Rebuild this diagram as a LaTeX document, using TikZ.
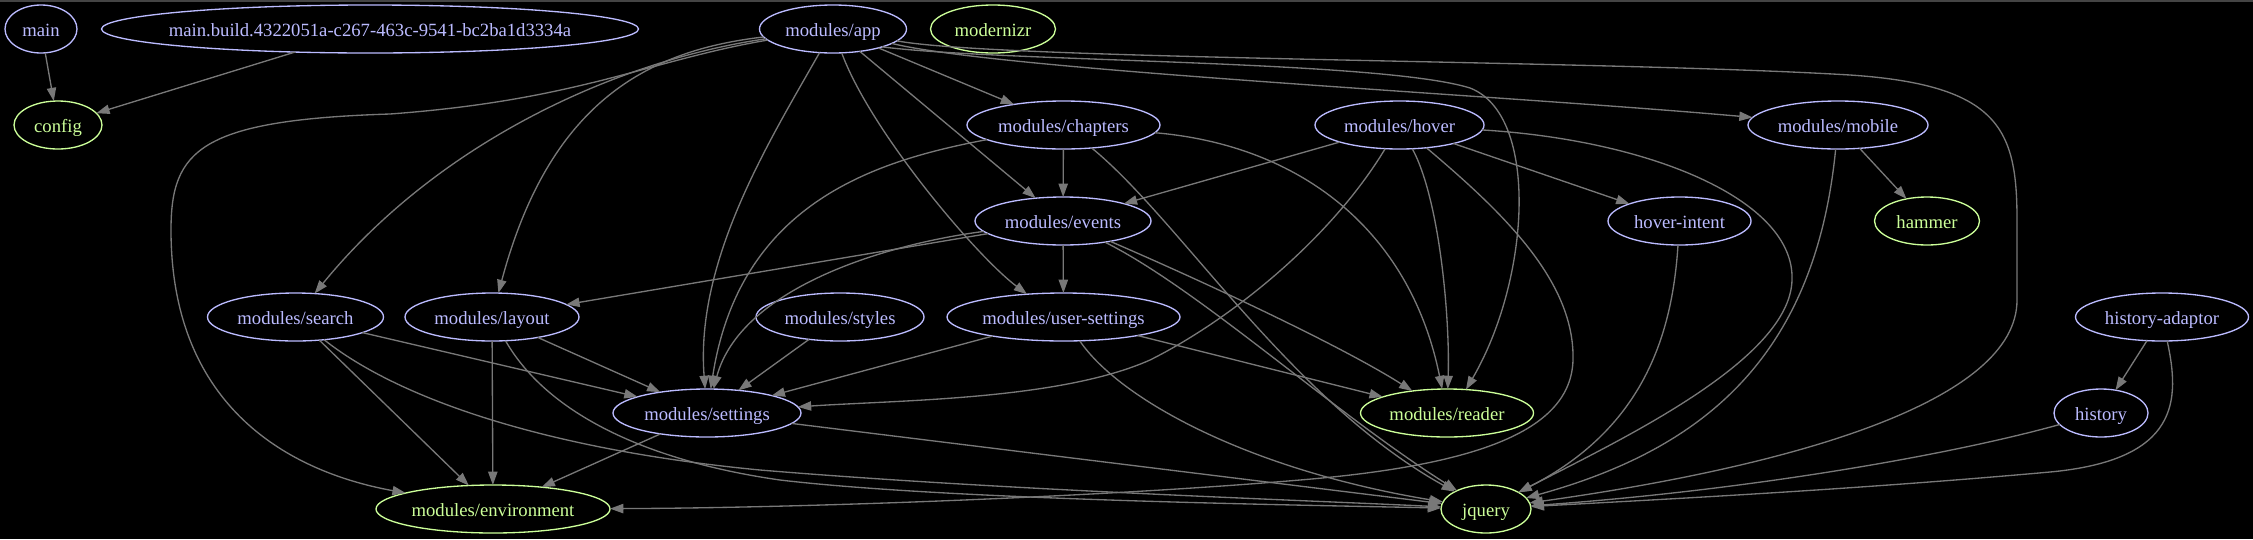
\documentclass[tikz,border=0pt]{standalone}
\usepackage{fontspec}
\setmainfont{Liberation Serif}
\usetikzlibrary{shapes.geometric, arrows.meta}
\definecolor{lav}{RGB}{187,187,255}
\definecolor{grn}{RGB}{204,255,153}
\definecolor{edg}{RGB}{120,120,120}
\definecolor{topline}{RGB}{68,68,68}
\newcommand{\lbl}[1]{\makebox[0pt]{\rule{0pt}{14pt}\smash{#1}}}
\begin{document}
\begin{tikzpicture}[x=1pt,y=-1pt,
 gn/.style={ellipse, draw=lav, text=lav, line width=1.33pt, inner sep=0pt, outer sep=0pt, minimum height=48pt, font=\fontsize{18.67}{22}\selectfont},
 leaf/.style={gn, draw=grn, text=grn},
 edge/.style={draw=edg, line width=1.33pt, -{Triangle[length=13.3pt,width=9.3pt]}}
]
\fill[black] (0,0) rectangle (2253,539);
\useasboundingbox (0,0) rectangle (2253,539);
\draw[topline, line width=1.5pt] (0,0.75) -- (2253,0.75);

% nodes
\node[gn, minimum width=72pt] (main) at (41,29) {\lbl{main}};
\node[gn, minimum width=537pt] (mbuild) at (370,29) {\lbl{main.build.4322051a-c267-463c-9541-bc2ba1d3334a}};
\node[leaf, minimum width=88pt] (config) at (58,125) {\lbl{config}};
\node[gn, minimum width=147pt] (app) at (833,29) {\lbl{modules/app}};
\node[leaf, minimum width=125pt] (modernizr) at (993,29) {\lbl{modernizr}};
\node[gn, minimum width=193pt] (chapters) at (1063.5,125) {\lbl{modules/chapters}};
\node[gn, minimum width=169pt] (hover) at (1399.5,125) {\lbl{modules/hover}};
\node[gn, minimum width=180pt] (mobile) at (1838,125) {\lbl{modules/mobile}};
\node[gn, minimum width=176pt] (events) at (1063,221) {\lbl{modules/events}};
\node[gn, minimum width=143pt] (hoverintent) at (1679.5,221) {\lbl{hover-intent}};
\node[leaf, minimum width=105pt] (hammer) at (1927,221) {\lbl{hammer}};
\node[gn, minimum width=176pt] (search) at (295.5,317) {\lbl{modules/search}};
\node[gn, minimum width=174pt] (layout) at (492,317) {\lbl{modules/layout}};
\node[gn, minimum width=168pt] (styles) at (840,317) {\lbl{modules/styles}};
\node[gn, minimum width=233pt] (usersettings) at (1063.5,317) {\lbl{modules/user-settings}};
\node[gn, minimum width=173pt] (hadaptor) at (2162,317) {\lbl{history-adaptor}};
\node[gn, minimum width=188pt] (settings) at (707,413) {\lbl{modules/settings}};
\node[leaf, minimum width=173pt] (reader) at (1447,413) {\lbl{modules/reader}};
\node[gn, minimum width=94pt] (history) at (2101,413) {\lbl{history}};
\node[leaf, minimum width=234pt] (environment) at (493,509) {\lbl{modules/environment}};
\node[leaf, minimum width=90pt] (jquery) at (1486,509) {\lbl{jquery}};

% edges
\draw[edge] (main) -- (config);
\draw[edge] (mbuild) -- (config);
\draw[edge] (app) -- (chapters);
\draw[edge] (app) -- (events);
\draw[edge] (app) .. controls (620,60) and (440,140) .. (search);
\draw[edge] (app) .. controls (650,50) and (550,100) .. (layout);
\draw[edge] (app) .. controls (650,60) and (580,100) .. (390,114) .. controls (200,120) and (171,150) .. (171,230) .. controls (171,400) and (280,470) .. (environment);
\draw[edge] (app) .. controls (770,140) and (695,260) .. (settings);
\draw[edge] (app.-70) .. controls (870,130) and (975,255) .. (usersettings.148);
\draw[edge] (app) .. controls (1000,70) and (1500,95) .. (mobile);
\draw[edge] (app.-20) .. controls (1000,62) and (1380,60) .. (1470,88) .. controls (1540,115) and (1530,280) .. (reader.51);
\draw[edge] (app) .. controls (1000,60) and (1600,60) .. (1850,75) .. controls (2000,85) and (2017,130) .. (2017,220) -- (2017,300) .. controls (2017,400) and (1800,465) .. (jquery);

\draw[edge] (chapters) -- (events);
\draw[edge] (chapters) .. controls (880,160) and (740,200) .. (settings);
\draw[edge] (chapters) .. controls (1300,145) and (1410,230) .. (reader);
\draw[edge] (chapters) .. controls (1180,220) and (1290,400) .. (jquery);

\draw[edge] (hover) -- (events);
\draw[edge] (hover) .. controls (1330,240) and (1230,320) .. (1150,360) .. controls (1060,400) and (900,400) .. (settings);
\draw[edge] (hover) .. controls (1440,200) and (1450,320) .. (reader);
\draw[edge] (hover) .. controls (1500,210) and (1575,280) .. (1573,360) .. controls (1571,430) and (1480,465) .. (1300,480) .. controls (1100,497) and (800,508) .. (environment);
\draw[edge] (hover) -- (hoverintent);
\draw[edge] (hover) .. controls (1650,140) and (1795,200) .. (1792,280) .. controls (1790,360) and (1620,440) .. (jquery);

\draw[edge] (mobile) -- (hammer);
\draw[edge] (mobile) .. controls (1815,360) and (1700,450) .. (jquery);
\draw[edge] (hoverintent) .. controls (1672,340) and (1640,430) .. (jquery);

\draw[edge] (events) -- (layout);
\draw[edge] (events) .. controls (880,245) and (740,290) .. (settings);
\draw[edge] (events) -- (usersettings);
\draw[edge] (events) .. controls (1200,280) and (1340,345) .. (reader);
\draw[edge] (events) .. controls (1200,290) and (1330,410) .. (jquery);

\draw[edge] (usersettings) -- (settings);
\draw[edge] (usersettings) -- (reader);
\draw[edge] (usersettings) .. controls (1120,400) and (1250,470) .. (jquery);

\draw[edge] (styles) -- (settings);
\draw[edge] (search) -- (settings);
\draw[edge] (search) -- (environment);
\draw[edge] (search) .. controls (400,400) and (550,450) .. (760,470) .. controls (1000,490) and (1300,500) .. (jquery);
\draw[edge] (layout) -- (settings);
\draw[edge] (layout) -- (environment);
\draw[edge] (layout) .. controls (545,410) and (640,460) .. (780,480) .. controls (950,500) and (1300,505) .. (jquery);

\draw[edge] (settings) -- (environment);
\draw[edge] (settings) -- (jquery);

\draw[edge] (hadaptor) -- (history);
\draw[edge] (hadaptor) .. controls (2180,400) and (2180,460) .. (2050,472) .. controls (1850,490) and (1650,500) .. (jquery);
\draw[edge] (history) .. controls (1950,455) and (1750,490) .. (jquery);
\end{tikzpicture}
\end{document}
